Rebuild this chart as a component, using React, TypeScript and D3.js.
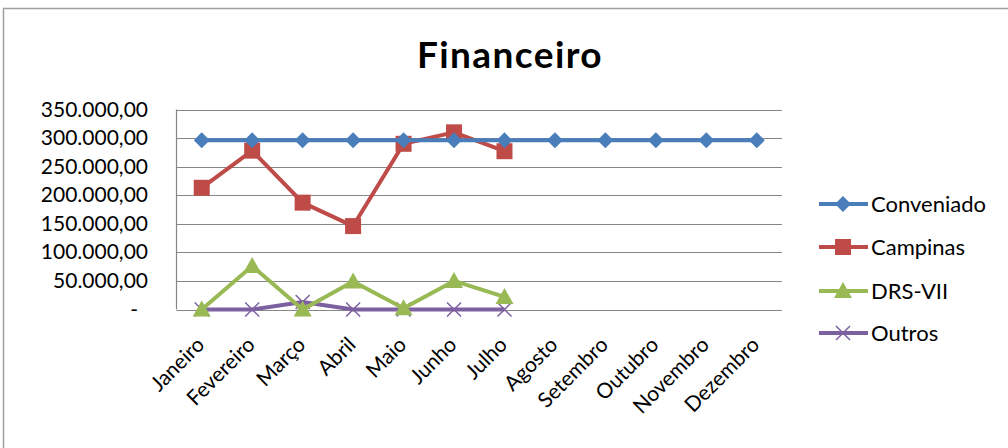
import * as d3 from "d3";
import { useRef, useEffect } from "react";

const months = ["Janeiro", "Fevereiro", "Março", "Abril", "Maio", "Junho", "Julho", "Agosto", "Setembro", "Outubro", "Novembro", "Dezembro"];
const conveniado = [296000, 296000, 296000, 296000, 296000, 296000, 296000, 296000, 296000, 296000, 296000, 296000];
const campinas = [213000, 278000, 187000, 146000, 290000, 310000, 277000];
const drs = [0, 76000, 0, 49000, 2000, 50000, 22000];
const outros = [0, 0, 13000, 0, 0, 0, 0];
const yTicks = [0, 50000, 100000, 150000, 200000, 250000, 300000, 350000];

const seriesList = [
  { name: "Conveniado", values: conveniado, color: "#4a7ebb", marker: "diamond" },
  { name: "Campinas", values: campinas, color: "#be4b48", marker: "square" },
  { name: "DRS-VII", values: drs, color: "#98b954", marker: "triangle" },
  { name: "Outros", values: outros, color: "#7d60a0", marker: "cross" },
];

const font = "Lato, 'Open Sans', sans-serif";

const App = () => {
  const ref = useRef<SVGSVGElement>(null);

  useEffect(() => {
    const svg = d3.select(ref.current);
    svg.selectAll("*").remove();

    const margin = { left: 176.5, right: 782, top: 109.5, bottom: 309.5 };

    svg.append("rect")
      .attr("x", 3.5).attr("y", 8.5).attr("width", 1100).attr("height", 500)
      .attr("fill", "white").attr("stroke", "#a0a0a0").attr("stroke-width", 1.5);

    const x = d3.scaleBand().domain(months).range([margin.left, margin.right]);
    const y = d3.scaleLinear().domain([0, 350000]).range([margin.bottom, margin.top]);
    const cx = (i: number) => (x(months[i]) as number) + x.bandwidth() / 2;

    // grid
    svg.append("g").selectAll("line").data(yTicks).enter().append("line")
      .attr("x1", margin.left).attr("x2", margin.right)
      .attr("y1", d => Math.round(y(d)) + 0.5).attr("y2", d => Math.round(y(d)) + 0.5)
      .attr("stroke", "#868686").attr("stroke-width", 1.2);
    svg.append("line")
      .attr("x1", margin.left).attr("x2", margin.left)
      .attr("y1", margin.top).attr("y2", margin.bottom)
      .attr("stroke", "#868686").attr("stroke-width", 1.2);

    // y labels
    svg.append("g").selectAll("text").data(yTicks).enter().append("text")
      .attr("x", 148).attr("y", d => y(d) + 7)
      .attr("text-anchor", "end")
      .style("font-family", font).style("font-size", "21px").attr("fill", "#000")
      .text(d => d === 0 ? "-" : d3.format(",.2f")(d).replace(/,/g, "#").replace(".", ",").replace(/#/g, "."))
      .attr("dx", d => d === 0 ? -10 : 0);

    // x labels
    svg.append("g").selectAll("text").data(months).enter().append("text")
      .attr("transform", (d, i) => `translate(${cx(i) + 4},${346}) rotate(-45)`)
      .attr("text-anchor", "end")
      .style("font-family", font).style("font-size", "21px").attr("fill", "#000")
      .text(d => d);

    const drawMarker = (g: any, type: string, px: number, py: number, color: string) => {
      if (type === "diamond") {
        g.append("path").attr("d", `M${px},${py - 8}L${px + 8},${py}L${px},${py + 8}L${px - 8},${py}Z`).attr("fill", color);
      } else if (type === "square") {
        g.append("rect").attr("x", px - 8).attr("y", py - 8).attr("width", 16).attr("height", 16).attr("fill", color);
      } else if (type === "triangle") {
        g.append("path").attr("d", `M${px},${py - 9}L${px + 9},${py + 7}L${px - 9},${py + 7}Z`).attr("fill", color);
      } else {
        g.append("path").attr("d", `M${px - 7},${py - 7}L${px + 7},${py + 7}M${px - 7},${py + 7}L${px + 7},${py - 7}`)
          .attr("stroke", color).attr("stroke-width", 1.5).attr("fill", "none");
      }
    };

    const line = d3.line<number>().x((d, i) => cx(i)).y(d => y(d));

    seriesList.slice().reverse().forEach(s => {
      const g = svg.append("g");
      g.append("path").datum(s.values).attr("d", line)
        .attr("fill", "none").attr("stroke", s.color).attr("stroke-width", 4).attr("stroke-linejoin", "round");
      s.values.forEach((v, i) => drawMarker(g, s.marker, cx(i), y(v), s.color));
    });

    // legend
    const legendY = [204, 247, 291, 333];
    seriesList.forEach((s, i) => {
      const g = svg.append("g");
      g.append("line").attr("x1", 819).attr("x2", 868).attr("y1", legendY[i]).attr("y2", legendY[i])
        .attr("stroke", s.color).attr("stroke-width", 4);
      drawMarker(g, s.marker, 843, legendY[i], s.color);
      g.append("text").attr("x", 871).attr("y", legendY[i] + 8)
        .style("font-family", font).style("font-size", "22px").attr("fill", "#000").text(s.name);
    });

    // title
    svg.append("text").attr("x", 510).attr("y", 68).attr("text-anchor", "middle")
      .style("font-family", font).style("font-size", "37px").style("font-weight", "bold")
      .style("letter-spacing", "1.4px")
      .attr("fill", "#000").text("Financeiro");
  }, []);

  return <svg ref={ref} width={1008} height={448} style={{ position: "absolute", left: 0, top: 0 }} />;
};

export default App;
